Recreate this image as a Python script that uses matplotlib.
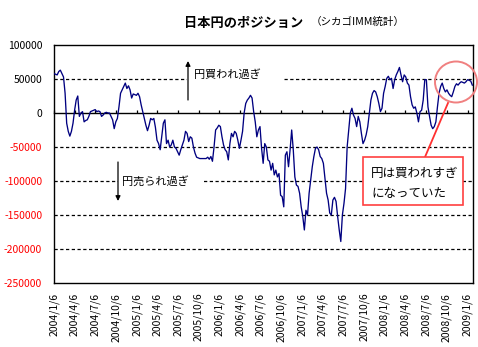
import numpy as np
import pandas as pd
import matplotlib
matplotlib.use('Agg')
import matplotlib.pyplot as plt
import matplotlib.dates as mdates
from matplotlib.patches import Ellipse, Rectangle

plt.rcParams['font.family'] = ['Noto Sans CJK JP', 'DejaVu Sans']

# ---------------- data ----------------
start_date = '2004-01-06'   # weekly data (Tuesdays)
# net yen position (thousands of contracts)
net_k = [
    58, 57, 56, 61, 63, 58, 53, 29, -15, -27,
    -34, -27, -15, 4, 19, 25, -5, 0, 2, -13,
    -11, -10, -5, 2, 3, 4, 5, 2, 3, 2,
    -5, -3, 0, 1, 0, 0, -5, -10, -23, -13,
    -8, 9, 29, 34, 39, 44, 36, 40, 34, 22,
    28, 27, 26, 29, 24, 12, 2, -8, -18, -26,
    -18, -8, -10, -8, -21, -40, -45, -54, -35, -15,
    -10, -45, -40, -50, -47, -40, -50, -52, -57, -62,
    -54, -47, -40, -27, -30, -42, -35, -37, -50, -59,
    -65, -66, -67, -67, -67, -67, -67, -65, -68, -64,
    -71, -50, -25, -22, -18, -20, -35, -47, -54, -57,
    -69, -45, -30, -35, -27, -30, -40, -52, -40, -27,
    0, 14, 19, 22, 26, 22, 2, -13, -35, -25,
    -20, -52, -74, -45, -50, -69, -71, -84, -74, -91,
    -84, -94, -89, -121, -123, -138, -62, -57, -79, -54,
    -25, -54, -94, -106, -108, -118, -138, -152, -172, -143,
    -150, -118, -99, -79, -64, -52, -50, -54, -64, -67,
    -74, -96, -118, -128, -147, -150, -128, -124, -130, -152,
    -172, -189, -150, -133, -111, -50, -25, 0, 7, -3,
    -8, -20, -5, -13, -30, -45, -40, -32, -20, 0,
    19, 29, 33, 31, 24, 14, 2, 7, 29, 39,
    51, 54, 49, 51, 36, 49, 56, 61, 67, 56,
    46, 56, 53, 44, 41, 24, 12, 7, 9, 0,
    -13, 2, 4, 19, 49, 49, 9, -5, -18, -23,
    -20, -13, 9, 29, 39, 44, 36, 31, 34, 29,
    26, 24, 31, 39, 43, 41, 44, 46, 45, 44,
    46, 49, 48, 47, 41,
]
tick_labels = [
    '2004/1/6', '2004/4/6', '2004/7/6', '2004/10/6',
    '2005/1/6', '2005/4/6', '2005/7/6', '2005/10/6',
    '2006/1/6', '2006/4/6', '2006/7/6', '2006/10/6',
    '2007/1/6', '2007/4/6', '2007/7/6', '2007/10/6',
    '2008/1/6', '2008/4/6', '2008/7/6', '2008/10/6',
    '2009/1/6',
]
y_ticks = [100000, 50000, 0, -50000, -100000, -150000, -200000, -250000]
grid_levels = [50000, -50000, -100000, -150000, -200000]

title = '日本円のポジション'
subtitle = '（シカゴIMM統計）'
label_up = '円買われ過ぎ'
label_down = '円売られ過ぎ'
callout_lines = ['円は買われすぎ', 'になっていた']

# ---------------- derived ----------------
dates = pd.date_range(start_date, periods=len(net_k), freq='7D')
net = np.array(net_k) * 1000
tick_dates = pd.to_datetime(tick_labels, format='%Y/%m/%d')
ymin, ymax = -250000, 100000

W, H = 478, 347
fig = plt.figure(figsize=(W / 100, H / 100), dpi=100)
L, R, T, B = 54, 473, 45, 283
ax = fig.add_axes([L / W, 1 - B / H, (R - L) / W, (B - T) / H])
ax.set_ylim(ymin, ymax)
ax.set_xlim(dates[0], dates[-1] + pd.Timedelta(days=3))

for g in grid_levels:
    ax.axhline(g, color='black', lw=0.9, dashes=(2.6, 2.0), zorder=1)

ax.plot(dates, net, color='#000080', lw=0.95, zorder=3)

ax.set_yticks(y_ticks)
ax.set_yticklabels([str(v) for v in y_ticks])
for lbl, v in zip(ax.get_yticklabels(), y_ticks):
    lbl.set_color('#FF0000' if v < 0 else 'black')
ax.tick_params(axis='y', length=0, pad=8.5, labelsize=7.5)

ax.set_xticks(tick_dates)
ax.set_xticklabels(tick_labels, rotation=90)
ax.tick_params(axis='x', length=0, pad=7, labelsize=7.5)
for s in ax.spines.values():
    s.set_linewidth(1.0)

# zero line with small tick marks
sec = ax.secondary_xaxis((0 - ymin) / (ymax - ymin))
sec.set_xticks(mdates.date2num(tick_dates))
sec.tick_params(axis='x', length=2.5, width=0.9, labeltop=False, labelbottom=False,
                direction='out')
for s in sec.spines.values():
    s.set_linewidth(1.0)

# text boxes with arrows
def ax_x(px):
    return (px - L) / (R - L)

def ax_y(py):
    return (B - py) / (B - T)

ax.add_patch(Rectangle((ax_x(187), ax_y(88)), ax_x(282) - ax_x(187), ax_y(68) - ax_y(88),
                       transform=ax.transAxes, facecolor='white', edgecolor='none', zorder=2))
ax.text(ax_x(194), ax_y(74), label_up, transform=ax.transAxes, ha='left', va='center',
        fontsize=8, zorder=4)
ax.annotate('', xy=(ax_x(188), ax_y(61)), xytext=(ax_x(188), ax_y(100)),
            xycoords='axes fraction',
            arrowprops=dict(arrowstyle='-|>', color='black', lw=0.9, mutation_scale=7,
                            shrinkA=0, shrinkB=0), zorder=4)

ax.add_patch(Rectangle((ax_x(118), ax_y(190)), ax_x(203) - ax_x(118), ax_y(173) - ax_y(190),
                       transform=ax.transAxes, facecolor='white', edgecolor='none', zorder=2))
ax.text(ax_x(122), ax_y(181.5), label_down, transform=ax.transAxes, ha='left', va='center',
        fontsize=8, zorder=4)
ax.annotate('', xy=(ax_x(118), ax_y(201)), xytext=(ax_x(118), ax_y(162)),
            xycoords='axes fraction',
            arrowprops=dict(arrowstyle='-|>', color='black', lw=0.9, mutation_scale=7,
                            shrinkA=0, shrinkB=0), zorder=4)

# callout
ax.add_patch(Ellipse((ax_x(456), ax_y(82)), ax_x(477) - ax_x(435), ax_y(62) - ax_y(103),
                     transform=ax.transAxes, fill=False, edgecolor='#F08080', lw=1.4,
                     clip_on=False, zorder=5))
ax.plot([ax_x(448), ax_x(425)], [ax_y(103), ax_y(157)], transform=ax.transAxes,
        color='#FF3030', lw=1.3, clip_on=False, zorder=5)
ax.add_patch(Rectangle((ax_x(363), ax_y(205)), ax_x(463) - ax_x(363), ax_y(157) - ax_y(205),
                       transform=ax.transAxes, facecolor='white', edgecolor='#FF4040',
                       lw=1.2, zorder=5))
ax.text(ax_x(371), ax_y(173), callout_lines[0], transform=ax.transAxes, ha='left',
        va='center', fontsize=9, zorder=6)
ax.text(ax_x(371), ax_y(193), callout_lines[1], transform=ax.transAxes, ha='left',
        va='center', fontsize=9, zorder=6)

# title
fig.text(184 / W, 1 - 23 / H, title, ha='left', va='center', fontsize=9.5, fontweight='bold')
fig.text(311 / W, 1 - 22 / H, subtitle, ha='left', va='center', fontsize=7.6)

fig.savefig('out.png', dpi=100)
